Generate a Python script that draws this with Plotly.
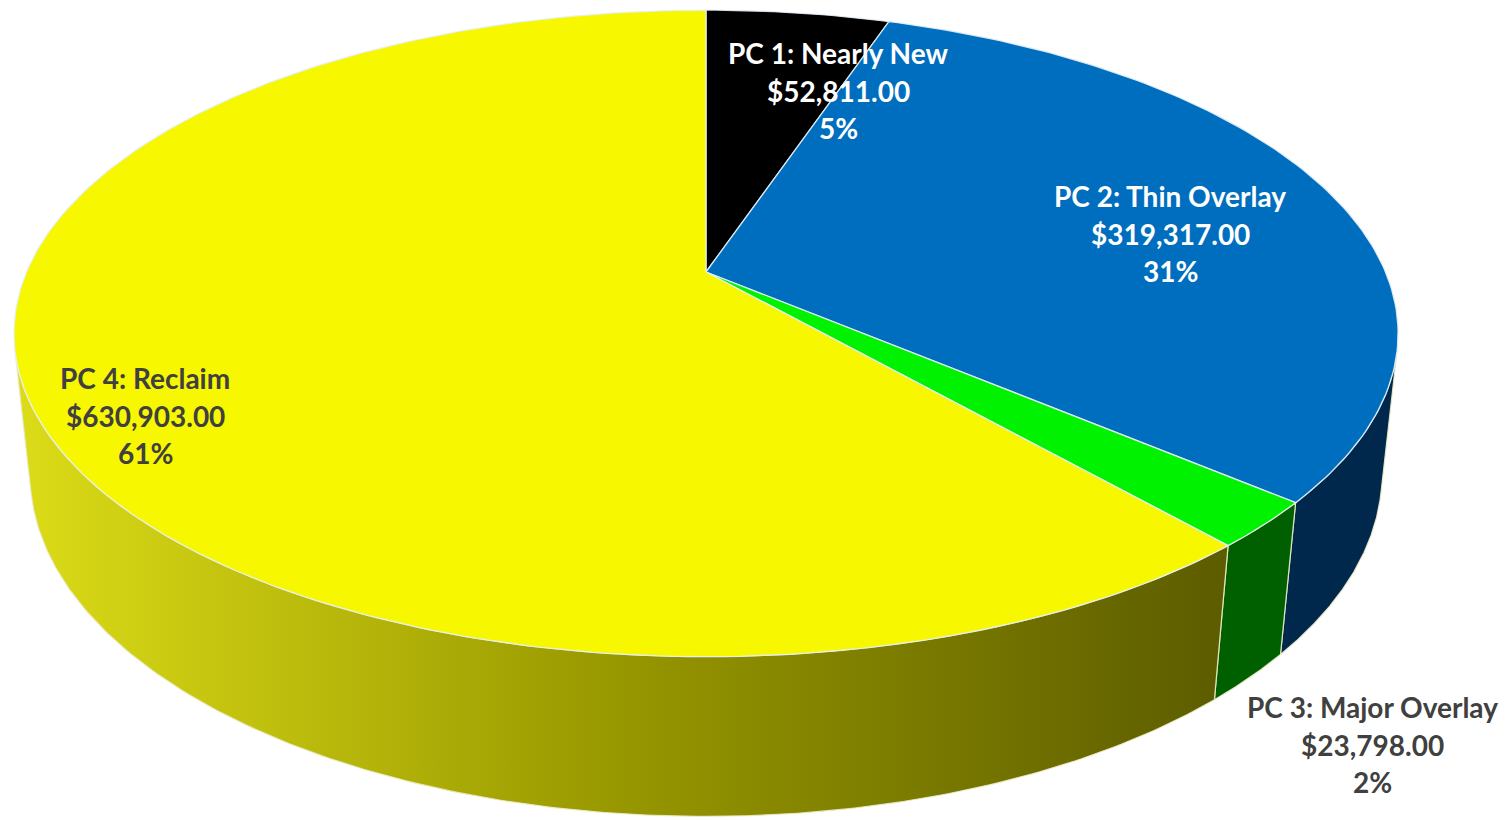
import numpy as np
import plotly.graph_objects as go

# ---------------- data ----------------
categories = ["PC 1: Nearly New", "PC 2: Thin Overlay", "PC 3: Major Overlay", "PC 4: Reclaim"]
values = [52811, 319317, 23798, 630903]
amount_labels = ["$52,811.00", "$319,317.00", "$23,798.00", "$630,903.00"]
pct_labels = ["5%", "31%", "2%", "61%"]

# ---------------- style ----------------
top_colors = ["#000000", "#006ebe", "#00f200", "#f7f700"]
side_colors = ["#000000", "#00284d", "#006000", None]  # yellow side uses gradient
yellow_side_scale = [[0, "#dcdc18"], [0.5, "#979700"], [1, "#5c5c00"]]
label_colors = ["#ffffff", "#ffffff", "#404040", "#404040"]
label_pos = [(838, 53), (1170, 196), (1372, 707), (145, 378)]
line_gap = 37.5

W, H = 1509, 820
OFF = 8  # page body margin
CX, CY = 706, 272
ELEV = np.radians(27.3)
DIST = 4.68
FOC = 3180
THICK = 0.235


def proj(phi, z=0.0):
    X = np.sin(phi)
    Y = np.cos(phi)
    depth = DIST + Y * np.cos(ELEV) - z * np.sin(ELEV)
    up = Y * np.sin(ELEV) + z * np.cos(ELEV)
    return CX + X * FOC / depth, CY - up * FOC / depth


total = float(sum(values))
fracs = np.array(values) / total
ends = np.cumsum(fracs) * 2 * np.pi
starts = np.concatenate([[0], ends[:-1]])

vis = np.arccos(-1.0 / (DIST * np.cos(ELEV)))
vis_lo, vis_hi = vis, 2 * np.pi - vis

fig = go.Figure()

# sides
for i in range(len(values)):
    a, b = max(starts[i], vis_lo), min(ends[i], vis_hi)
    if b <= a:
        continue
    ph = np.linspace(a, b, 200)
    xt, yt = proj(ph, 0.0)
    xb, yb = proj(ph[::-1], -THICK)
    xs = np.concatenate([xt, xb, xt[:1]])
    ys = np.concatenate([yt, yb, yt[:1]])
    kw = dict(x=xs, y=ys, mode="lines", fill="toself",
              line=dict(color="rgba(235,235,200,0.9)", width=1.2),
              hoverinfo="skip", showlegend=False)
    if side_colors[i] is None:
        kw["fillgradient"] = dict(type="horizontal", colorscale=yellow_side_scale)
    else:
        kw["fillcolor"] = side_colors[i]
    fig.add_trace(go.Scatter(**kw))

# top faces
for i in range(len(values)):
    ph = np.linspace(starts[i], ends[i], max(20, int(400 * fracs[i])))
    xa, ya = proj(ph, 0.0)
    xs = np.concatenate([[CX], xa, [CX]])
    ys = np.concatenate([[CY], ya, [CY]])
    fig.add_trace(go.Scatter(x=xs, y=ys, mode="lines", fill="toself",
                             fillcolor=top_colors[i],
                             line=dict(color="rgba(230,240,250,0.9)", width=1.3),
                             hoverinfo="skip", showlegend=False))

# labels
for i in range(len(values)):
    lx, ly = label_pos[i]
    for k, t in enumerate([categories[i], amount_labels[i], pct_labels[i]]):
        fig.add_annotation(x=lx, y=ly + k * line_gap, text="<b>" + t + "</b>",
                           showarrow=False, xanchor="center", yanchor="middle",
                           font=dict(family="Lato", size=28, color=label_colors[i]))

fig.update_layout(
    width=W, height=H,
    margin=dict(l=0, r=0, t=0, b=0),
    paper_bgcolor="white", plot_bgcolor="white",
    xaxis=dict(range=[OFF, W + OFF], visible=False, fixedrange=True),
    yaxis=dict(range=[H + OFF, OFF], visible=False, fixedrange=True),
)

fig.write_html("out.html")
